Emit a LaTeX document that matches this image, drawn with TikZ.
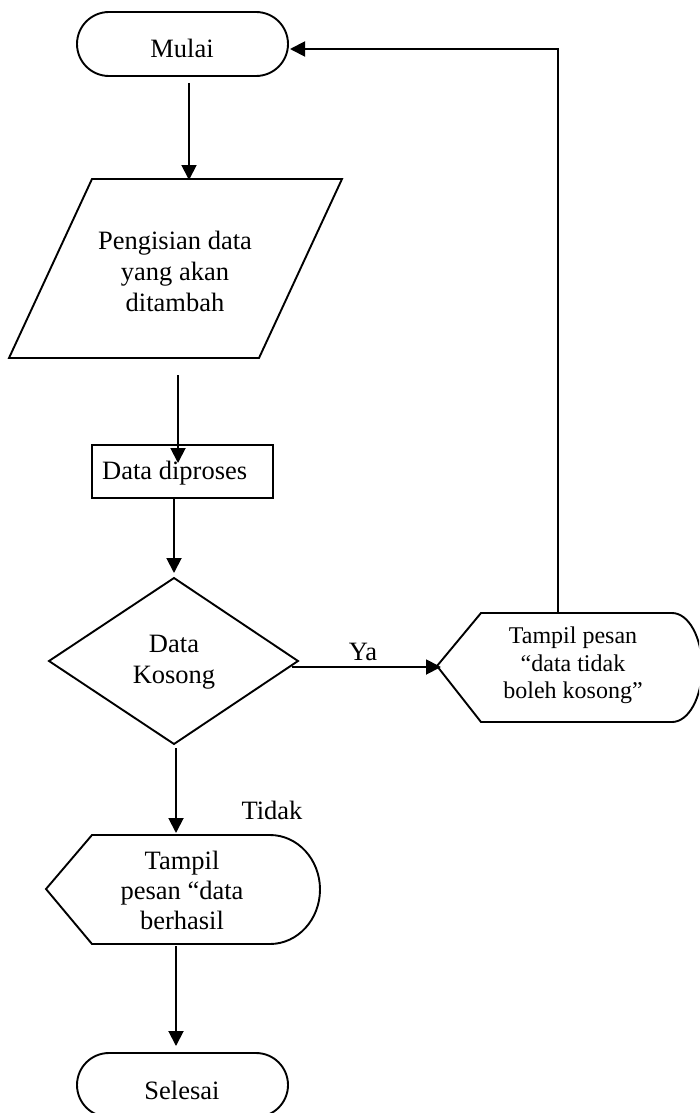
\documentclass[tikz,border=0pt]{standalone}
\usepackage{fontspec}
\setmainfont{Liberation Serif}
\usetikzlibrary{arrows.meta,shapes.misc,shapes.geometric}
\begin{document}
\begin{tikzpicture}[x=1pt,y=-1pt,
  shp/.style={line width=1.9pt,line join=miter},
  flow/.style={line width=1.9pt,line join=miter,-{Triangle[length=15pt,width=15pt]}},
  txt/.style={font=\fontsize{26.5}{31}\selectfont,align=center,inner sep=0pt},
  txtsmall/.style={font=\fontsize{24}{27.5}\selectfont,align=center,inner sep=0pt},
  terminal/.style={shp,draw,rounded rectangle,minimum width=211pt,minimum height=64pt,inner sep=0pt}]
\useasboundingbox (0,0) rectangle (699,1113);
\begin{scope}
\clip (0,0) rectangle (699,1113);

% start / end terminals
\node[terminal] (mulai) at (182.5,44) {};
\node[txt] (tmulai) at (182,48.5) {Mulai};
\node[terminal] (selesai) at (182.5,1085) {};
\node[txt] (tselesai) at (182,1090) {Selesai};

% input parallelogram
\draw[shp] (92,179) -- (342,179) -- (259,358) -- (9,358) -- cycle;
\node[txt] (input) at (175,271) {Pengisian data\\yang akan\\ditambah};

% process box
\draw[shp] (92,445) rectangle (273,498);
\node[txt,anchor=west] (proses) at (102,473) {Data diproses};

% decision
\draw[shp] (174,578) -- (298,661) -- (174,744) -- (49,661) -- cycle;
\node[txt] (cek) at (174,662.5) {Data\\Kosong};

% display: empty data warning
\draw[shp] (437,666) -- (481,613) -- (672,613)
  arc[start angle=-90,end angle=90,x radius=30,y radius=54.5]
  -- (481,722) -- cycle;
\node[txtsmall] (kosong) at (573,665.5) {Tampil pesan\\“data tidak\\boleh kosong”};

% display: success message
\draw[shp] (46,889) -- (92,835) -- (270,835)
  arc[start angle=-90,end angle=90,x radius=50,y radius=54.5]
  -- (92,944) -- cycle;
\node[txt,font=\fontsize{26.5}{30}\selectfont] (berhasil) at (182,890) {Tampil\\pesan “data\\berhasil};

% connector end points
\coordinate (mulaiOut) at (189,83);
\coordinate (inputIn) at (189,180);
\coordinate (inputOut) at (178,375);
\coordinate (prosesIn) at (178,463);
\coordinate (prosesOut) at (174,497);
\coordinate (cekIn) at (174,573);
\coordinate (cekYa) at (292,667);
\coordinate (kosongIn) at (441,667);
\coordinate (kosongTop) at (558,613);
\coordinate (loopCorner) at (558,49);
\coordinate (mulaiIn) at (290,49);
\coordinate (cekTidak) at (176,748);
\coordinate (berhasilIn) at (176,833);
\coordinate (berhasilOut) at (176,946);
\coordinate (selesaiIn) at (176,1046);

% connectors
\draw[flow] (mulaiOut) -- (inputIn);
\draw[flow] (inputOut) -- (prosesIn);
\draw[flow] (prosesOut) -- (cekIn);
\draw[flow] (cekYa) -- (kosongIn);
\draw[flow] (kosongTop) -- (loopCorner) -- (mulaiIn);
\draw[flow] (cekTidak) -- (berhasilIn);
\draw[flow] (berhasilOut) -- (selesaiIn);

% branch labels
\node[txt] (ya) at (363,652) {Ya};
\node[txt] (tidak) at (272,810) {Tidak};
\end{scope}
\end{tikzpicture}
\end{document}
